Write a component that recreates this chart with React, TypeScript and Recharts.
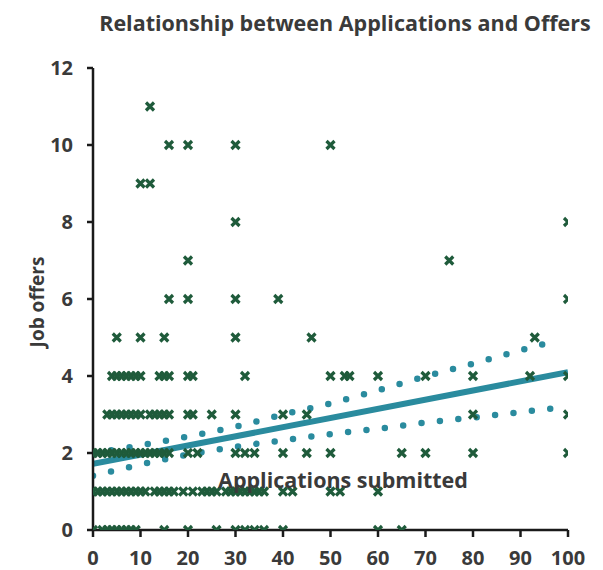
import React from 'react';
import { ComposedChart, Scatter, Line, XAxis, YAxis } from 'recharts';

// x positions (applications submitted) of the points on each offers row
const offers0X = [0, 2, 3, 4, 5, 6, 7, 8, 9, 15, 20, 26, 30, 32, 34, 36, 40, 60, 65];
const offers1X = [0, 1, 2, 3, 4, 5, 6, 7, 8, 9, 10, 11, 13, 14, 15, 16, 17, 19, 21, 23, 24, 25, 26, 28, 29, 30, 31, 32, 33, 34, 35, 36, 40, 42, 50, 52, 60];
const offers2X = [0, 1, 2, 3, 4, 5, 6, 7, 8, 9, 10, 11, 12, 13, 14, 15, 16, 20, 22, 30, 32, 34, 40, 45, 50, 65, 70, 80, 100];
const offers3X = [3, 4, 5, 6, 7, 8, 9, 10, 12, 13, 14, 15, 16, 20, 21, 25, 30, 40, 45, 80, 100];
const offers4X = [4, 5, 6, 7, 8, 9, 10, 14, 15, 16, 20, 21, 32, 50, 53, 54, 60, 70, 80, 92, 100];
const offers5X = [5, 10, 15, 30, 46, 93];
const offers6X = [16, 20, 30, 39, 100];
const offers7X = [20, 75];
const offers8X = [30, 100];
const offers9X = [10, 12];
const offers10X = [16, 20, 30, 50];
const offers11X = [12];

const rows = [offers0X, offers1X, offers2X, offers3X, offers4X, offers5X, offers6X, offers7X, offers8X, offers9X, offers10X, offers11X];
const points = rows.flatMap((xs, offers) => xs.map((x) => ({ x, y: offers })));

// fitted line and its band
const trendX = [0, 100];
const trendY = [1.72, 4.1];
const upperX = [0, 10, 20, 30, 40, 50, 60, 70, 80, 90, 97];
const upperY = [2.0, 2.2, 2.43, 2.68, 3.0, 3.29, 3.63, 3.99, 4.32, 4.67, 4.9];
const lowerX = [0, 10, 20, 30, 40, 50, 60, 70, 80, 90, 99];
const lowerY = [1.41, 1.7, 1.96, 2.16, 2.33, 2.49, 2.63, 2.79, 2.92, 3.06, 3.19];

const xTicks = [0, 10, 20, 30, 40, 50, 60, 70, 80, 90, 100];
const yTicks = [0, 2, 4, 6, 8, 10, 12];

const zip = (xs: number[], ys: number[]) => xs.map((x, i) => ({ x, y: ys[i] }));

const FONT = '"Open Sans", sans-serif';
const TEXT = '#3a3a3a';
const TEAL = '#2a8b9e';
const GREEN = '#1f5b3b';

const Cross = (props: any) => {
  const { cx, cy } = props;
  if (cx == null || cy == null) return null;
  const r = 4;
  return (
    <path
      d={`M${cx - r},${cy - r}L${cx + r},${cy + r}M${cx + r},${cy - r}L${cx - r},${cy + r}`}
      stroke={GREEN}
      strokeWidth={3.2}
      fill="none"
    />
  );
};

const tickStyle = { fill: TEXT, fontSize: 20, fontWeight: 700, fontFamily: FONT };

export default function App() {
  return (
    <div style={{ position: 'absolute', left: 0, top: 0, width: 603, height: 570, background: '#fff' }}>
      <ComposedChart width={603} height={570} margin={{ top: 68, right: 35, bottom: 0, left: 0 }}>
        <XAxis
          dataKey="x"
          type="number"
          domain={[0, 100]}
          ticks={xTicks}
          height={40}
          tick={tickStyle}
          tickSize={7}
          tickMargin={14}
          axisLine={{ stroke: '#1a1a1a', strokeWidth: 2.5 }}
          tickLine={{ stroke: '#1a1a1a', strokeWidth: 2.5 }}
          allowDataOverflow
        />
        <YAxis
          dataKey="y"
          type="number"
          domain={[0, 12]}
          ticks={yTicks}
          width={93}
          tick={tickStyle}
          tickSize={6}
          tickMargin={14}
          axisLine={{ stroke: '#1a1a1a', strokeWidth: 2.5 }}
          tickLine={{ stroke: '#1a1a1a', strokeWidth: 2.5 }}
          allowDataOverflow
        />
        <Line
          data={zip(upperX, upperY)}
          dataKey="y"
          type="monotone"
          stroke={TEAL}
          strokeWidth={6.5}
          strokeLinecap="round"
          strokeDasharray="0 18.5"
          dot={false}
          activeDot={false}
          isAnimationActive={false}
        />
        <Line
          data={zip(lowerX, lowerY)}
          dataKey="y"
          type="monotone"
          stroke={TEAL}
          strokeWidth={6.5}
          strokeLinecap="round"
          strokeDasharray="0 18.5"
          dot={false}
          activeDot={false}
          isAnimationActive={false}
        />
        <Line
          data={zip(trendX, trendY)}
          dataKey="y"
          type="linear"
          stroke={TEAL}
          strokeWidth={6}
          dot={false}
          activeDot={false}
          isAnimationActive={false}
        />
        <Scatter data={points} shape={<Cross />} isAnimationActive={false} />
      </ComposedChart>
      <svg
        width={603}
        height={570}
        style={{ position: 'absolute', left: 0, top: 0, pointerEvents: 'none' }}
      >
        <text x={345} y={31} textAnchor="middle" fill={TEXT} fontFamily={FONT} fontWeight={700} fontSize={21.5}>
          Relationship between Applications and Offers
        </text>
        <text x={343} y={488} textAnchor="middle" fill={TEXT} fontFamily={FONT} fontWeight={700} fontSize={21.5}>
          Applications submitted
        </text>
        <text
          x={0}
          y={0}
          transform="translate(44,302) rotate(-90)"
          textAnchor="middle"
          fill={TEXT}
          fontFamily={FONT}
          fontWeight={700}
          fontSize={19}
        >
          Job offers
        </text>
      </svg>
    </div>
  );
}
